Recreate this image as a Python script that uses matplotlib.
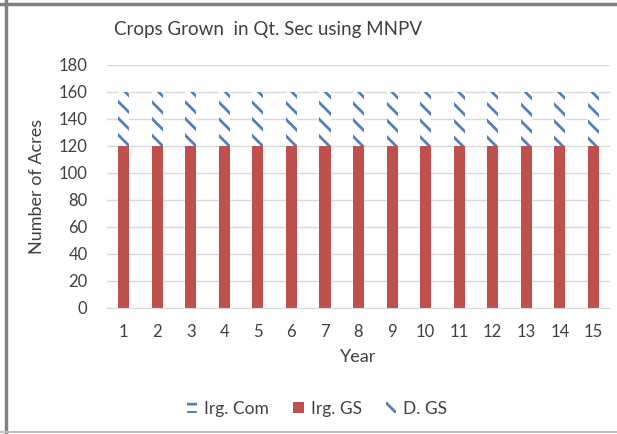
import matplotlib
matplotlib.use('Agg')
import matplotlib.pyplot as plt
from matplotlib.lines import Line2D
import numpy as np

plt.rcParams['font.family'] = ['Lato', 'DejaVu Sans']
plt.rcParams['hatch.linewidth'] = 2.0

years = [str(i) for i in range(1, 16)]
irg_corn = [0] * 15
irg_gs = [120] * 15
d_gs = [40] * 15

red = '#C0504D'
blue = '#4F81BD'
txt = '#404040'

fig = plt.figure(figsize=(6.17, 4.34), dpi=100)
ax = fig.add_axes([0.1734, 0.291, 0.8153, 0.560])

x = np.arange(len(years))
w = 0.33
ax.bar(x, irg_corn, w, color='white', edgecolor=blue, hatch='--', lw=0, label='Irg. Com')
ax.bar(x, irg_gs, w, bottom=irg_corn, color=red, lw=0, label='Irg. GS')
ax.bar(x, d_gs, w, bottom=np.add(irg_corn, irg_gs), color='white', edgecolor=blue,
       hatch='\\\\', lw=0, label='D. GS')

ax.set_ylim(0, 180)
ax.set_xlim(-0.5, len(years) - 0.5)
ax.set_yticks(range(0, 181, 20))
ax.set_xticks(x)
ax.set_xticklabels(years)
ax.grid(axis='y', color='#D9D9D9', lw=1)
ax.set_axisbelow(True)
for s in ['top', 'right', 'left']:
    ax.spines[s].set_visible(False)
ax.spines['bottom'].set_color('#D9D9D9')
ax.tick_params(length=0, labelsize=12, colors=txt)
ax.tick_params(axis='x', pad=12)
ax.tick_params(axis='y', pad=14)

ax.set_xlabel('Year', fontsize=13, color=txt, labelpad=6)
ax.set_ylabel('Number of Acres', fontsize=13, color=txt, labelpad=10)

fig.text(268 / 617, 1 - 30 / 434, 'Crops Grown  in Qt. Sec using MNPV', ha='center', va='center',
         fontsize=13.5, color=txt)

leg = fig.legend(loc='center', bbox_to_anchor=(317 / 617, 1 - 409 / 434), ncol=3, frameon=False,
                 fontsize=12.5, handlelength=0.6, handleheight=0.6, handletextpad=0.4,
                 columnspacing=1.4)
for t in leg.get_texts():
    t.set_color(txt)

fig.add_artist(Line2D([0, 1], [1 - 4 / 434] * 2, color='#808080', lw=2.5))
fig.add_artist(Line2D([6 / 617] * 2, [0, 1], color='#808080', lw=2.5))
fig.add_artist(Line2D([0, 1], [1 - 432 / 434] * 2, color='#C0C0C0', lw=1.5))

fig.savefig('out.png', dpi=100)
